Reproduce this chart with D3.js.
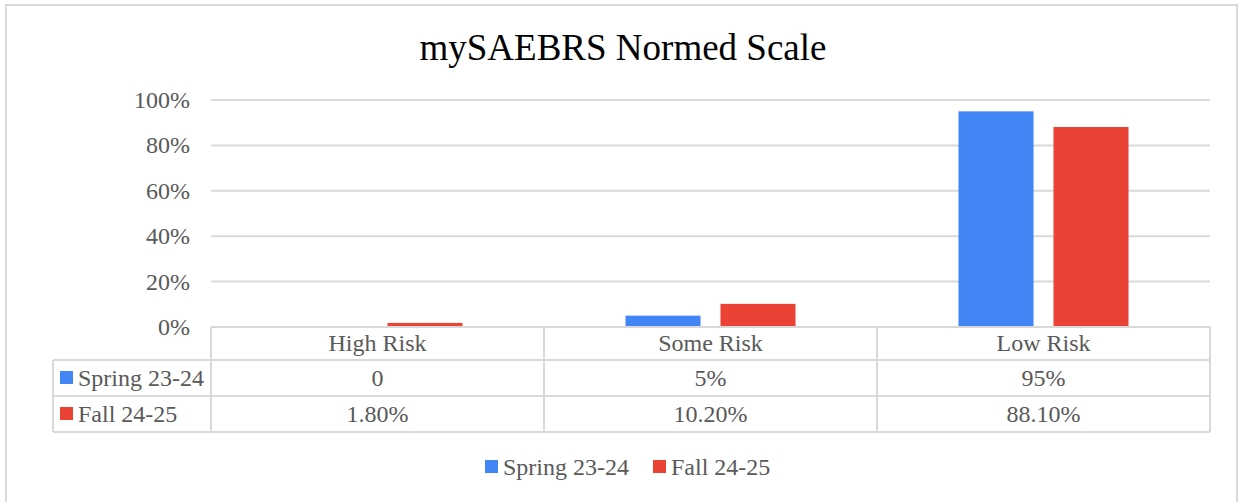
<!DOCTYPE html>
<html>
<head>
<meta charset="utf-8">
<script src="https://cdn.jsdelivr.net/npm/d3@7"></script>
<style>
  body { margin: 0; background: #fff; }
  text { font-family: "Liberation Serif", "Times New Roman", serif; }
</style>
</head>
<body>
<div id="chart"></div>
<script>
var categories = ['High Risk', 'Some Risk', 'Low Risk'];
var seriesNames = ['Spring 23-24', 'Fall 24-25'];
var springValues = [0, 5, 95];
var fallValues = [1.8, 10.2, 88.1];
var springLabels = ['0', '5%', '95%'];
var fallLabels = ['1.80%', '10.20%', '88.10%'];
var yTicks = [0, 20, 40, 60, 80, 100];

var width = 1241, height = 502;
var colors = ['#4285f4', '#ea4335'];
var gridColor = '#d9d9d9', textColor = '#595959';

var svg = d3.select('#chart').append('svg').attr('width', width).attr('height', height);

// outer frame
svg.append('rect')
  .attr('x', 6).attr('y', 5).attr('width', 1231).attr('height', 510)
  .attr('fill', 'none').attr('stroke', gridColor).attr('stroke-width', 2);

svg.append('text')
  .attr('x', 623).attr('y', 60)
  .attr('text-anchor', 'middle')
  .attr('font-size', 37).attr('fill', '#000')
  .text('mySAEBRS Normed Scale');

var plotLeft = 211, plotRight = 1210, plotTop = 100, plotBottom = 327;

var x = d3.scaleBand().domain(categories).range([plotLeft, plotRight]);
var xInner = d3.scaleBand().domain(seriesNames).range([0, x.bandwidth()]).paddingInner(0.21).paddingOuter(0.858);
var y = d3.scaleLinear().domain([0, 100]).range([plotBottom, plotTop]);

// gridlines
svg.append('g').selectAll('line').data(yTicks.slice(1)).join('line')
  .attr('x1', plotLeft).attr('x2', plotRight)
  .attr('y1', function(d) { return y(d); }).attr('y2', function(d) { return y(d); })
  .attr('stroke', gridColor).attr('stroke-width', 2);

// y labels
svg.append('g').selectAll('text').data(yTicks).join('text')
  .attr('x', 190).attr('y', function(d) { return y(d) + 8; })
  .attr('text-anchor', 'end').attr('font-size', 24).attr('fill', textColor)
  .text(function(d) { return d + '%'; });

// bars
var series = [springValues, fallValues];
series.forEach(function(vals, si) {
  svg.append('g').selectAll('rect').data(vals).join('rect')
    .attr('x', function(d, i) { return x(categories[i]) + xInner(seriesNames[si]); })
    .attr('width', xInner.bandwidth())
    .attr('y', function(d) { return y(d); })
    .attr('height', function(d) { return plotBottom - y(d); })
    .attr('fill', colors[si]);
});

// data table
var rowTop = [327, 360, 396, 432];
var tableLeft = 53;
var tbl = svg.append('g').attr('stroke', gridColor).attr('stroke-width', 2).attr('fill', 'none');
tbl.append('line').attr('x1', plotLeft).attr('x2', plotRight).attr('y1', rowTop[0]).attr('y2', rowTop[0]);
[1, 2, 3].forEach(function(r) {
  tbl.append('line').attr('x1', tableLeft).attr('x2', plotRight).attr('y1', rowTop[r]).attr('y2', rowTop[r]);
});
tbl.append('line').attr('x1', tableLeft).attr('x2', tableLeft).attr('y1', rowTop[1]).attr('y2', rowTop[3]);
categories.forEach(function(c) {
  tbl.append('line').attr('x1', x(c)).attr('x2', x(c)).attr('y1', rowTop[0]).attr('y2', rowTop[3]);
});
tbl.append('line').attr('x1', plotRight).attr('x2', plotRight).attr('y1', rowTop[0]).attr('y2', rowTop[3]);

function cellText(tx, ty, str, anchor) {
  svg.append('text').attr('x', tx).attr('y', ty)
    .attr('text-anchor', anchor || 'middle').attr('font-size', 24).attr('fill', textColor)
    .text(str);
}

categories.forEach(function(c, i) {
  var cx = x(c) + x.bandwidth() / 2;
  cellText(cx, 351, c);
  cellText(cx, 386, springLabels[i]);
  cellText(cx, 422, fallLabels[i]);
});

// series labels in table
[386, 422].forEach(function(ty, si) {
  svg.append('rect').attr('x', 60).attr('y', ty - 15).attr('width', 13).attr('height', 13).attr('fill', colors[si]);
  cellText(78, ty, seriesNames[si], 'start');
});

// legend
var legendX = [485, 653];
seriesNames.forEach(function(name, si) {
  svg.append('rect').attr('x', legendX[si]).attr('y', 460).attr('width', 13).attr('height', 13).attr('fill', colors[si]);
  cellText(legendX[si] + 18, 475, name, 'start');
});
</script>
</body>
</html>
